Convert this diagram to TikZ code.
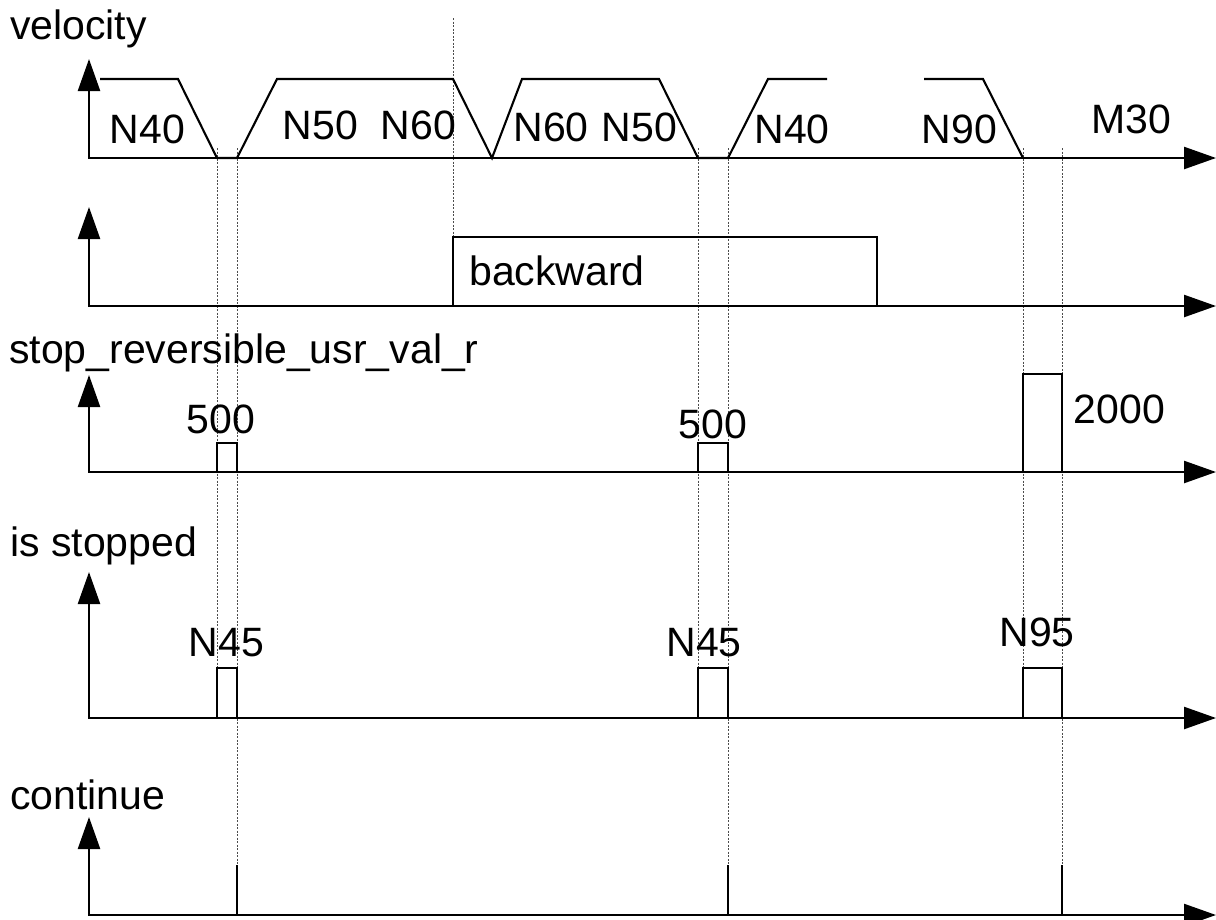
\documentclass[tikz,border=0pt]{standalone}
\usepackage{fontspec}
\setmainfont{Liberation Sans}
\usetikzlibrary{arrows.meta}
\begin{document}
\begin{tikzpicture}[x=1pt,y=-1pt,
  axis/.style={line width=2.4pt, line join=miter, {Triangle[length=32pt,width=22pt]}-{Triangle[length=32pt,width=22pt]}},
  sig/.style={line width=2.1pt, line join=miter},
  guide/.style={line width=0.8pt, dash pattern=on 2pt off 1.5pt, black!70},
  lbl/.style={inner sep=0pt, font=\fontsize{41}{48}\selectfont}]
\useasboundingbox (0,0) rectangle (1216,919);
% guide lines
\draw[guide] (217,148) -- (217,668);
\draw[guide] (237,148) -- (237,865);
\draw[guide] (453,18) -- (453,237);
\draw[guide] (698,148) -- (698,668);
\draw[guide] (728,148) -- (728,865);
\draw[guide] (1023,148) -- (1023,668);
\draw[guide] (1062,148) -- (1062,865);
% axes
\draw[axis] (89,59) -- (89,158) -- (1216,158);
\draw[axis] (89,207) -- (89,306) -- (1216,306);
\draw[axis] (89,375) -- (89,472) -- (1216,472);
\draw[axis] (89,572) -- (89,718) -- (1216,718);
\draw[axis] (89,817) -- (89,915) -- (1216,915);
% velocity
\draw[sig] (100,79) -- (178,79) -- (217,158) -- (237,158) -- (277,79) -- (453,79) -- (492,158) -- (522,79) -- (659,79) -- (698,158) -- (728,158) -- (768,79) -- (827,79);
\draw[sig] (924,79) -- (983,79) -- (1023,158);
% backward
\draw[sig] (453,306) -- (453,237) -- (877,237) -- (877,306);
% stop reversible
\draw[sig] (217,472) -- (217,443) -- (237,443) -- (237,472);
\draw[sig] (698,472) -- (698,443) -- (728,443) -- (728,472);
\draw[sig] (1023,472) -- (1023,374) -- (1062,374) -- (1062,472);
% is stopped
\draw[sig] (217,718) -- (217,668) -- (237,668) -- (237,718);
\draw[sig] (698,718) -- (698,668) -- (728,668) -- (728,718);
\draw[sig] (1023,718) -- (1023,668) -- (1062,668) -- (1062,718);
% continue
\draw[sig] (237,915) -- (237,865);
\draw[sig] (728,915) -- (728,865);
\draw[sig] (1062,915) -- (1062,865);
% labels
\node[lbl, anchor=base west] (tvel) at (10,39) {velocity};
\node[lbl, anchor=base] (n40a) at (147.5,143) {N40};
\node[lbl, anchor=base] (n50a) at (320.5,139) {N50};
\node[lbl, anchor=base] (n60a) at (418.5,139) {N60};
\node[lbl, anchor=base] (n60b) at (551,141) {N60};
\node[lbl, anchor=base] (n50b) at (639.5,141) {N50};
\node[lbl, anchor=base] (n40b) at (792,143) {N40};
\node[lbl, anchor=base] (n90) at (959.5,143) {N90};
\node[lbl, anchor=base] (m30) at (1131.5,133) {M30};
\node[lbl, anchor=base west] (tback) at (469,285) {backward};
\node[lbl, anchor=base west] (tstop) at (9,363) {stop\_reversible\_usr\_val\_r};
\node[lbl, anchor=base] (v500a) at (221,433) {500};
\node[lbl, anchor=base] (v500b) at (713,438) {500};
\node[lbl, anchor=base] (v2000) at (1119.5,423) {2000};
\node[lbl, anchor=base west] (tis) at (10,556) {is stopped};
\node[lbl, anchor=base] (n45a) at (226.5,656) {N45};
\node[lbl, anchor=base] (n45b) at (704,656) {N45};
\node[lbl, anchor=base] (n95) at (1037,646) {N95};
\node[lbl, anchor=base west] (tcont) at (10,809) {continue};
\end{tikzpicture}
\end{document}
